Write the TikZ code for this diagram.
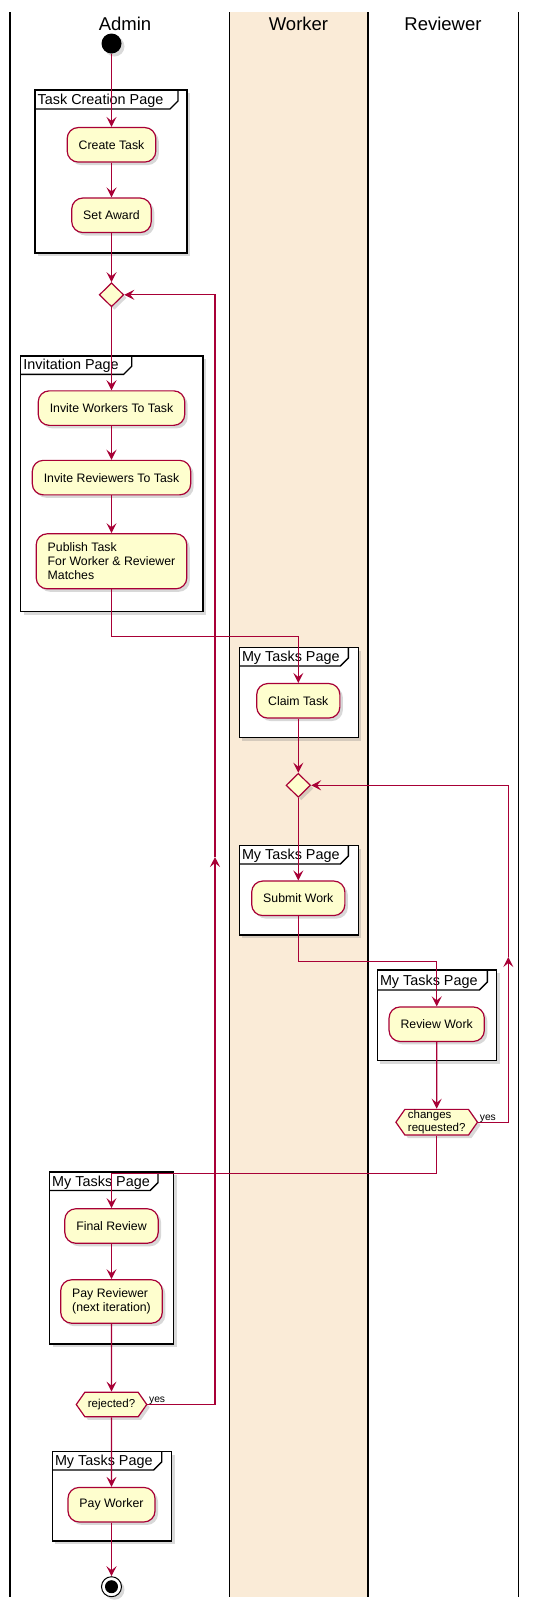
\documentclass[tikz,border=0pt]{standalone}
\usepackage{fontspec}
\setmainfont{Liberation Sans}
\usepackage{tikz}
\usetikzlibrary{arrows.meta,shapes.geometric,shapes.symbols,shadows}

\definecolor{umlred}{HTML}{A80036}
\definecolor{umlfill}{HTML}{FEFECE}
\definecolor{lanefill}{HTML}{FAEBD7}

\begin{document}
\begin{tikzpicture}[x=1pt,y=-1pt,>={Stealth[length=10pt,width=10pt,inset=4pt]},node distance=80pt]

    \tikzstyle{umlshadow}=[drop shadow={shadow xshift=3pt,shadow yshift=-3pt,opacity=.3}]
    \tikzstyle{act}=[rectangle,rounded corners=11pt,draw=umlred,fill=umlfill,line width=1.2pt,umlshadow,minimum height=34.5pt,inner xsep=11.5pt,inner ysep=9pt,font=\fontsize{12.3}{14}\selectfont,align=left]
    \tikzstyle{merge}=[diamond,draw=umlred,fill=umlfill,line width=1.2pt,umlshadow,minimum width=24.5pt,minimum height=24pt,inner sep=0pt]
    \tikzstyle{choice}=[signal,signal to=west and east,signal pointer angle=110,draw=umlred,fill=umlfill,line width=1.2pt,umlshadow,minimum height=24.5pt,inner xsep=3pt,inner ysep=1pt,font=\fontsize{11.5}{13}\selectfont,align=left]
    \tikzstyle{flow}=[->,draw=umlred,line width=1.3pt]
    \tikzstyle{page}=[draw=black,fill=white,line width=1.4pt,umlshadow]
    \tikzstyle{lane}=[font=\fontsize{18.5}{22}\selectfont]
    \tikzstyle{yeslabel}=[anchor=base west,inner sep=0pt,xshift=1pt,yshift=2pt,font=\fontsize{10.3}{12}\selectfont]

    \useasboundingbox (0,0) rectangle (533,1607);

    % swimlanes
    \fill[lanefill] (229.5,12) rectangle (368,1597);
    \foreach \x in {10,229.5,368,518.5}
        \draw[line width=1.5pt] (\x,12) -- (\x,1597);
    \node[lane] (admin)    at (125,24)   {Admin};
    \node[lane] (worker)   at (298.5,24) {Worker};
    \node[lane] (reviewer) at (443,24)   {Reviewer};

    % pages
    \foreach \xa/\ya/\xb/\yb/\tr/\tb/\txt [count=\i] in {%
        35/90/187/253/178/109/Task Creation Page,%
        20.7/356/203/611.7/131.7/374.3/Invitation Page,%
        239.3/647.7/358.3/737.7/348.3/666/My Tasks Page,%
        239.3/845.7/358.3/935/348.3/864/My Tasks Page,%
        377.3/970/496.7/1060.7/487.3/990/My Tasks Page,%
        49.5/1172/173.5/1344/158/1190.5/My Tasks Page,%
        52.3/1451.7/171.7/1541/161.7/1470/My Tasks Page} {
        \draw[page] (\xa,\ya) rectangle (\xb,\yb);
        \draw[line width=1.4pt] (\xa,\tb) -- (\tr-8,\tb) -- (\tr,\tb-8) -- (\tr,\ya);
        \node[anchor=base west,inner sep=0pt,font=\fontsize{14.4}{16}\selectfont] (f\i) at (\xa+2.5,\tb-4.5) {\txt};
    }

    \node[circle,fill=black,minimum size=20pt,inner sep=0pt,umlshadow] (0) at (111.5,43.5) {};
    \node[act]   (1)  [below of=0,node distance=101.3pt] {Create Task};
    \node[act]   (2)  [below of=1,node distance=70.5pt]  {Set Award};
    \node[merge] (3)  [below of=2,node distance=79.5pt]  {};
    \node[act]   (4)  [below of=3,node distance=113.3pt] {Invite Workers To Task};
    \node[act]   (5)  [below of=4,node distance=69.5pt]  {Invite Reviewers To Task};
    \node[act]   (6)  [below of=5,node distance=83.7pt]  {Publish Task\\For Worker \& Reviewer\\Matches};
    \node[act]   (7)  at (298.3,700.8)                   {Claim Task};
    \node[merge] (8)  [below of=7,node distance=84.5pt]  {};
    \node[act]   (9)  [below of=8,node distance=113pt]   {Submit Work};
    \node[act]   (10) at (436.7,1024.2)                  {Review Work};
    \node[choice] (11) [below of=10,node distance=98pt]  {changes\\requested?};
    \node[act]   (12) at (111.5,1226)                    {Final Review};
    \node[act]   (13) [below of=12,node distance=75.5pt] {Pay Reviewer\\(next iteration)};
    \node[choice] (14) [below of=13,node distance=103pt] {rejected?};
    \node[act]   (15) [below of=14,node distance=100.2pt] {Pay Worker};
    \node[circle,draw=black,fill=white,line width=1pt,minimum size=20pt,inner sep=0pt,umlshadow,
          path picture={\fill[black] (path picture bounding box.center) circle (6.5pt);}]
                 (16) [below of=15,node distance=82pt]   {};

    \coordinate (up1) at (215,857);
    \coordinate (up2) at (508.3,957);

    \draw[flow] (0) -- (1);
    \draw[flow] (1) -- (2);
    \draw[flow] (2) -- (3);
    \draw[flow] (3) -- (4);
    \draw[flow] (4) -- (5);
    \draw[flow] (5) -- (6);
    \draw[flow] (6.south) -- ++(0,47) -| (7.north);
    \draw[flow] (7) -- (8);
    \draw[flow] (8) -- (9);
    \draw[flow] (9.south) -- ++(0,45.2) -| (10.north);
    \draw[flow] (10) -- (11);
    \draw[flow] (11.east) node (yes2) [yeslabel] {yes} -| (up2);
    \draw[flow] (up2) |- (8.east);
    \draw[flow] (11.south) -- ++(0,37.5) -| (12.north);
    \draw[flow] (12) -- (13);
    \draw[flow] (13) -- (14);
    \draw[flow] (14.east) node (yes1) [yeslabel] {yes} -| (up1);
    \draw[flow] (up1) |- (3.east);
    \draw[flow] (14) -- (15);
    \draw[flow] (15) -- (16);
\end{tikzpicture}
\end{document}
